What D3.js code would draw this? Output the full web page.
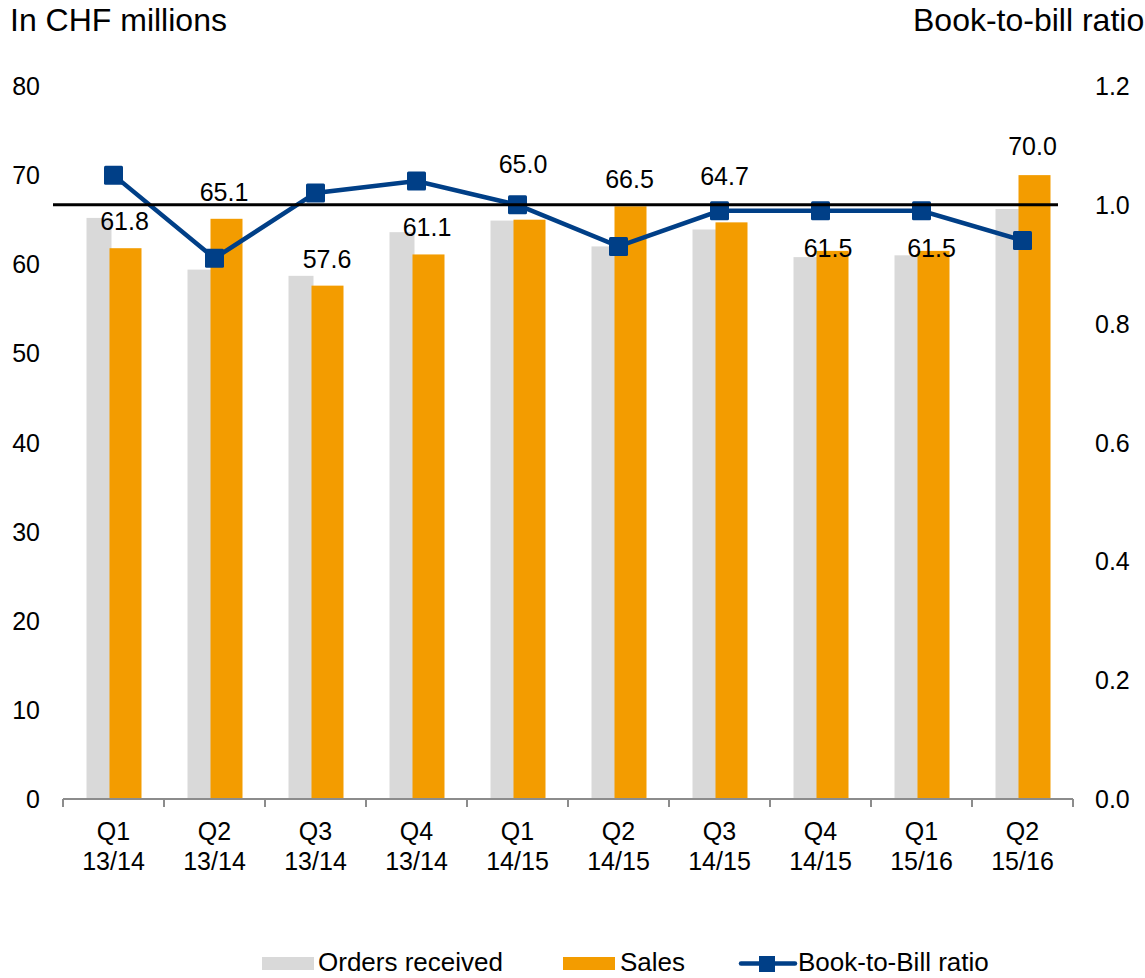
<!DOCTYPE html>
<html>
<head>
<meta charset="utf-8">
<script src="https://cdn.jsdelivr.net/npm/d3@7"></script>
<style>
  body { margin: 0; background: #fff; }
  svg text { font-family: "Liberation Sans", Arial, sans-serif; fill: #000; }
</style>
</head>
<body>
<div id="chart"></div>
<script>
var quarters = ["Q1", "Q2", "Q3", "Q4", "Q1", "Q2", "Q3", "Q4", "Q1", "Q2"];
var years = ["13/14", "13/14", "13/14", "13/14", "14/15", "14/15", "14/15", "14/15", "15/16", "15/16"];
var orders = [65.2, 59.4, 58.7, 63.6, 64.9, 62.0, 63.9, 60.8, 61.0, 66.2];
var sales = [61.8, 65.1, 57.6, 61.1, 65.0, 66.5, 64.7, 61.5, 61.5, 70.0];
var bookToBill = [1.05, 0.91, 1.02, 1.04, 1.0, 0.93, 0.99, 0.99, 0.99, 0.94];
var referenceRatio = 1.0;
var leftTicks = [0, 10, 20, 30, 40, 50, 60, 70, 80];
var rightTicks = [0.0, 0.2, 0.4, 0.6, 0.8, 1.0, 1.2];

// hand placed label nudges (px), like in the original slide
var labelDx = [11, 9.5, 11.5, 10.5, 5.5, 11, 5, 7.5, 10, 10];
var labelDy = [-18, -18, -18, -18, -47, -18, -37.5, 6, 6, -20];

var width = 1145, height = 978;
var plotLeft = 63, plotRight = 1073, plotTop = 86, plotBottom = 799;

var svg = d3.select("#chart").append("svg")
  .attr("width", width)
  .attr("height", height);

var x = d3.scaleBand()
  .domain(d3.range(quarters.length))
  .range([plotLeft, plotRight]);

var y = d3.scaleLinear().domain([0, 80]).range([plotBottom, plotTop]);
var y2 = d3.scaleLinear().domain([0, 1.2]).range([plotBottom, plotTop]);

function center(i) { return x(i) + x.bandwidth() / 2; }

// titles
svg.append("text").attr("x", 10).attr("y", 31)
  .style("font-size", "32px").text("In CHF millions");
svg.append("text").attr("x", 913).attr("y", 31)
  .style("font-size", "32px").text("Book-to-bill ratio");

// left tick labels
svg.append("g").selectAll("text").data(leftTicks).enter().append("text")
  .attr("x", 40)
  .attr("y", function(d) { return y(d) + 9; })
  .attr("text-anchor", "end")
  .style("font-size", "25px")
  .text(function(d) { return d; });

// right tick labels
svg.append("g").selectAll("text").data(rightTicks).enter().append("text")
  .attr("x", 1095)
  .attr("y", function(d) { return y2(d) + 9; })
  .style("font-size", "25px")
  .text(function(d) { return d.toFixed(1); });

// bars
svg.append("g").selectAll("rect").data(orders).enter().append("rect")
  .attr("x", function(d, i) { return center(i) - 27; })
  .attr("y", function(d) { return y(d); })
  .attr("width", 25)
  .attr("height", function(d) { return plotBottom - y(d); })
  .attr("fill", "#d9d9d9");

svg.append("g").selectAll("rect").data(sales).enter().append("rect")
  .attr("x", function(d, i) { return center(i) - 4; })
  .attr("y", function(d) { return y(d); })
  .attr("width", 32)
  .attr("height", function(d) { return plotBottom - y(d); })
  .attr("fill", "#f39c00");

// x axis
var axis = svg.append("g").attr("transform", "translate(0," + plotBottom + ")");
axis.append("line")
  .attr("x1", plotLeft).attr("x2", plotRight)
  .attr("stroke", "#8c8c8c").attr("stroke-width", 2);
axis.selectAll(".tick").data(d3.range(quarters.length + 1)).enter().append("line")
  .attr("x1", function(d) { return plotLeft + d * x.bandwidth(); })
  .attr("x2", function(d) { return plotLeft + d * x.bandwidth(); })
  .attr("y1", 0).attr("y2", 8)
  .attr("stroke", "#8c8c8c").attr("stroke-width", 2);

var cat = svg.append("g").selectAll("g").data(quarters).enter().append("g");
cat.append("text")
  .attr("x", function(d, i) { return center(i); })
  .attr("y", 840)
  .attr("text-anchor", "middle")
  .style("font-size", "25px")
  .text(function(d) { return d; });
cat.append("text")
  .attr("x", function(d, i) { return center(i); })
  .attr("y", 870)
  .attr("text-anchor", "middle")
  .style("font-size", "25px")
  .text(function(d, i) { return years[i]; });

// book-to-bill line
var line = d3.line()
  .x(function(d, i) { return center(i); })
  .y(function(d) { return y2(d); });

svg.append("path").datum(bookToBill)
  .attr("d", line)
  .attr("fill", "none")
  .attr("stroke", "#003f87")
  .attr("stroke-width", 4.5);

svg.append("g").selectAll("rect").data(bookToBill).enter().append("rect")
  .attr("x", function(d, i) { return center(i) - 9.5; })
  .attr("y", function(d) { return y2(d) - 9.5; })
  .attr("width", 19).attr("height", 19)
  .attr("rx", 1.5)
  .attr("fill", "#003f87");

// reference line at 1.0
svg.append("line")
  .attr("x1", 53).attr("x2", 1058)
  .attr("y1", y2(referenceRatio)).attr("y2", y2(referenceRatio))
  .attr("stroke", "#000").attr("stroke-width", 3);

// sales labels
svg.append("g").selectAll("text").data(sales).enter().append("text")
  .attr("x", function(d, i) { return center(i) + labelDx[i]; })
  .attr("y", function(d, i) { return y(d) + labelDy[i]; })
  .attr("text-anchor", "middle")
  .style("font-size", "25px")
  .text(function(d) { return d.toFixed(1); });

// legend
var legend = svg.append("g");
legend.append("rect").attr("x", 262).attr("y", 957).attr("width", 52).attr("height", 13).attr("fill", "#d9d9d9");
legend.append("text").attr("x", 318).attr("y", 971).style("font-size", "26px").text("Orders received");
legend.append("rect").attr("x", 563).attr("y", 957).attr("width", 52).attr("height", 13).attr("fill", "#f39c00");
legend.append("text").attr("x", 620).attr("y", 971).style("font-size", "26px").text("Sales");
legend.append("line").attr("x1", 741).attr("x2", 795).attr("y1", 963.5).attr("y2", 963.5)
  .attr("stroke", "#003f87").attr("stroke-width", 4.5).attr("stroke-linecap", "round");
legend.append("rect").attr("x", 759).attr("y", 956).attr("width", 16).attr("height", 16).attr("fill", "#003f87");
legend.append("text").attr("x", 798).attr("y", 971).style("font-size", "26px").text("Book-to-Bill ratio");
</script>
</body>
</html>
